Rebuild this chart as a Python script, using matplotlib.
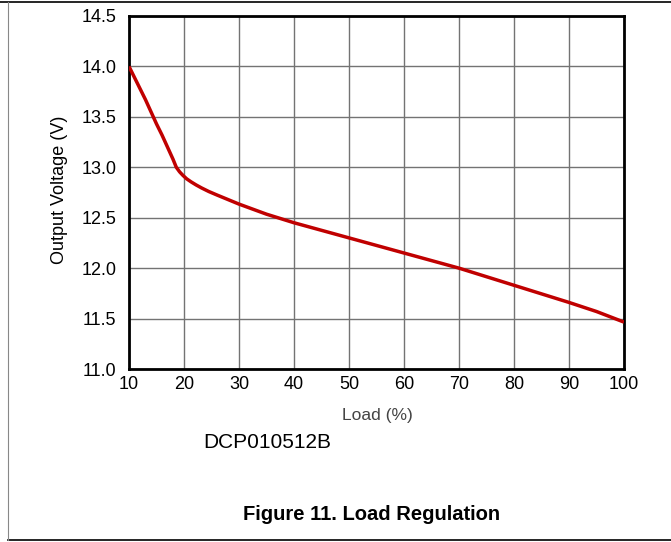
import matplotlib
matplotlib.use("Agg")
import matplotlib.pyplot as plt
from matplotlib.lines import Line2D

load = [10, 11, 12, 13, 14, 15, 16, 17, 18, 18.6, 19.2, 19.8, 20.5, 21.3, 22.2, 23.2, 24.5, 26, 28, 30, 35, 40, 45, 50, 55, 60, 65, 70, 75, 80, 85, 90, 95, 100]
vout = [14.0, 13.89, 13.78, 13.67, 13.55, 13.43, 13.32, 13.2, 13.08, 13.0, 12.955, 12.92, 12.885, 12.855, 12.825, 12.795, 12.76, 12.725, 12.68, 12.635, 12.535, 12.45, 12.375, 12.30, 12.225, 12.15, 12.075, 12.0, 11.915, 11.83, 11.745, 11.66, 11.57, 11.465]
xticks = [10, 20, 30, 40, 50, 60, 70, 80, 90, 100]
yticks = [11.0, 11.5, 12.0, 12.5, 13.0, 13.5, 14.0, 14.5]

plt.rcParams['font.family'] = ['Liberation Sans', 'DejaVu Sans']

fig = plt.figure(figsize=(6.71, 5.42), dpi=100)
ax = fig.add_axes([129/671, 1-369/542, (624-129)/671, (369-16)/542])
ax.plot(load, vout, color='#C00000', lw=2.5, solid_capstyle='butt', solid_joinstyle='round', zorder=3)
ax.set_xlim(10, 100)
ax.set_ylim(11.0, 14.5)
ax.set_xticks(xticks)
ax.set_xticklabels([str(v) for v in xticks])
ax.set_yticks(yticks)
ax.set_yticklabels([f"{v:.1f}" for v in yticks])
ax.tick_params(length=0, labelsize=13)
ax.tick_params(axis='x', pad=5)
ax.tick_params(axis='y', pad=9)
ax.grid(True, color='#737373', lw=1.0)
for s in ax.spines.values():
    s.set_linewidth(2.0)
    s.set_color('black')
ax.set_xlabel('Load (%)', fontsize=12.5, color='#444444')
ax.xaxis.set_label_coords((377-129)/(624-129), -(408-369)/(369-16))
ax.set_ylabel('Output Voltage (V)', fontsize=13)
ax.yaxis.set_label_coords(-(129-68)/(624-129), (369-190)/(369-16))

fig.text(267/671, 1-443/542, 'DCP010512B', fontsize=15, ha='center', va='center')
fig.text(372/671, 1-514/542, 'Figure 11. Load Regulation', fontsize=14.5, fontweight='bold', ha='center', va='center')

fig.add_artist(Line2D([0, 1], [1-1.5/542, 1-1.5/542], color='black', lw=1.2, transform=fig.transFigure))
fig.add_artist(Line2D([8/671, 1], [1-539.5/542, 1-539.5/542], color='black', lw=1.2, transform=fig.transFigure))
fig.add_artist(Line2D([8/671, 8/671], [1-1.5/542, 1-539.5/542], color='#888888', lw=0.8, transform=fig.transFigure))

fig.savefig('out.png', dpi=100)
